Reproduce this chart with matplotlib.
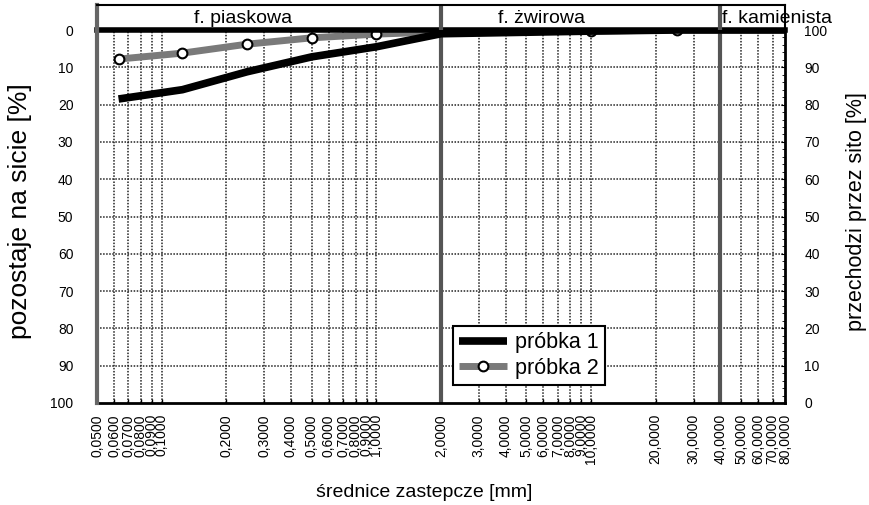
import matplotlib
matplotlib.use('Agg')
import matplotlib.pyplot as plt
from matplotlib.ticker import FixedLocator, FuncFormatter

plt.rcParams['font.family'] = ['Liberation Sans', 'DejaVu Sans']

# ---- data ----
x_ticks = [0.05, 0.06, 0.07, 0.08, 0.09, 0.1, 0.2, 0.3, 0.4, 0.5, 0.6, 0.7, 0.8, 0.9, 1.0,
           2.0, 3.0, 4.0, 5.0, 6.0, 7.0, 8.0, 9.0, 10.0, 20.0, 30.0, 40.0, 50.0, 60.0, 70.0, 80.0]
y_left_ticks = [0, 10, 20, 30, 40, 50, 60, 70, 80, 90, 100]
fraction_bounds = [2.0, 40.0]
fraction_names = ['f. piaskowa', 'f. żwirowa', 'f. kamienista']

p1_x = [0.063, 0.125, 0.25, 0.5, 1.0, 2.0, 10.0, 25.0, 80.0]
p1_y = [18.5, 16.0, 11.2, 7.2, 4.5, 1.0, 0.3, 0.0, 0.0]
p2_x = [0.063, 0.125, 0.25, 0.5, 1.0, 2.0, 10.0, 25.0, 80.0]
p2_y = [7.8, 6.2, 3.8, 2.1, 1.1, 0.5, 0.3, 0.0, 0.0]

fig = plt.figure(figsize=(8.7, 5.05), dpi=100)
L, R = 97 / 870, 785 / 870
B, T = (505 - 403) / 505, (505 - 30) / 505
HT = (505 - 5) / 505
ax = fig.add_axes([L, B, R - L, T - B])
hax = fig.add_axes([L, T, R - L, HT - T])

xmin, xmax = 0.05, 80.0
for a in (ax, hax):
    a.set_xscale('log')
    a.set_xlim(xmin, xmax)

ax.set_ylim(100, 0)
grid_kw = dict(color='#222222', linestyle=(0, (1, 1)), lw=1.1, zorder=1)
for xv in x_ticks[1:-1]:
    if xv in fraction_bounds:
        continue
    ax.axvline(xv, **grid_kw)
for yv in y_left_ticks[1:-1]:
    ax.axhline(yv, **grid_kw)
for xv in fraction_bounds:
    ax.axvline(xv, color='#555555', lw=3, zorder=2)
    hax.axvline(xv, color='#555555', lw=3, zorder=2)

ax.xaxis.set_major_locator(FixedLocator(x_ticks))
ax.xaxis.set_minor_locator(FixedLocator([]))
ax.xaxis.set_major_formatter(FuncFormatter(lambda v, p: f"{v:.4f}".replace('.', ',')))
ax.tick_params(axis='x', direction='in', length=3, width=1, labelrotation=90, labelsize=10, pad=8)
for lab in ax.get_xticklabels():
    lab.set_verticalalignment('top')

ax.yaxis.set_major_locator(FixedLocator(y_left_ticks))
ax.tick_params(axis='y', length=0, labelsize=10, pad=17)

ax2 = ax.twinx()
ax2.set_ylim(0, 100)
ax2.yaxis.set_major_locator(FixedLocator(y_left_ticks))
ax2.yaxis.set_minor_locator(FixedLocator(list(range(0, 101, 2))))
ax2.tick_params(axis='y', which='major', direction='in', length=3, labelsize=10, pad=14)
ax2.tick_params(axis='y', which='minor', direction='in', length=2)

# data
ax.plot(p1_x, p1_y, color='black', lw=5.5, solid_capstyle='butt', zorder=5, label='próbka 1')
ax.plot(p2_x, p2_y, color='#7a7a7a', lw=5, solid_capstyle='butt', zorder=4,
        marker='o', markersize=7, markerfacecolor='white', markeredgecolor='black',
        markeredgewidth=1.5, markevery=[0, 1, 2, 3, 4, 6, 7], label='próbka 2')

# spines
for s in ('left', 'right', 'bottom', 'top'):
    ax.spines[s].set_visible(False)
    ax2.spines[s].set_visible(False)
ax.axhline(0, color='black', lw=4, zorder=6, clip_on=False)
ax.axhline(100, color='black', lw=2, zorder=6, clip_on=False)
ax.axvline(xmin, color='#666666', lw=3, zorder=6, clip_on=False)
ax.axvline(xmax, color='black', lw=2, zorder=6, clip_on=False)

# header
hax.set_ylim(0, 1)
hax.set_xticks([]); hax.set_yticks([])
hax.xaxis.set_minor_locator(FixedLocator([]))
hax.spines['bottom'].set_visible(False)
hax.spines['left'].set_color('#666666'); hax.spines['left'].set_linewidth(3)
hax.spines['top'].set_linewidth(1.5)
hax.spines['right'].set_linewidth(1.5)
hax.patch.set_alpha(0)
label_x = [0.239, 5.9]
hax.text(label_x[0], 0.45, fraction_names[0], ha='center', va='center', fontsize=14)
hax.text(label_x[1], 0.45, fraction_names[1], ha='center', va='center', fontsize=14)
hax.text(fraction_bounds[1] * 1.02, 0.45, fraction_names[2], ha='left', va='center', fontsize=14, clip_on=False)

leg = ax.legend(loc='lower left', bbox_to_anchor=(0.517, 0.048), fontsize=15.5, frameon=True,
                fancybox=False, edgecolor='black', framealpha=1, handlelength=2.2,
                handletextpad=0.4, borderpad=0.3, borderaxespad=0, labelspacing=0.2)
leg.get_frame().set_linewidth(1.5)
leg.set_zorder(10)

fig.text(0.023, (B + T) / 2 + 0.01, 'pozostaje na sicie [%]', rotation=90, ha='center', va='center', fontsize=19)
fig.text(0.985, (B + T) / 2 + 0.01, 'przechodzi przez sito [%]', rotation=90, ha='center', va='center', fontsize=15.5)
fig.text(0.488, 0.025, 'średnice zastepcze [mm]', ha='center', va='center', fontsize=14)

fig.savefig('out.png', dpi=100)
